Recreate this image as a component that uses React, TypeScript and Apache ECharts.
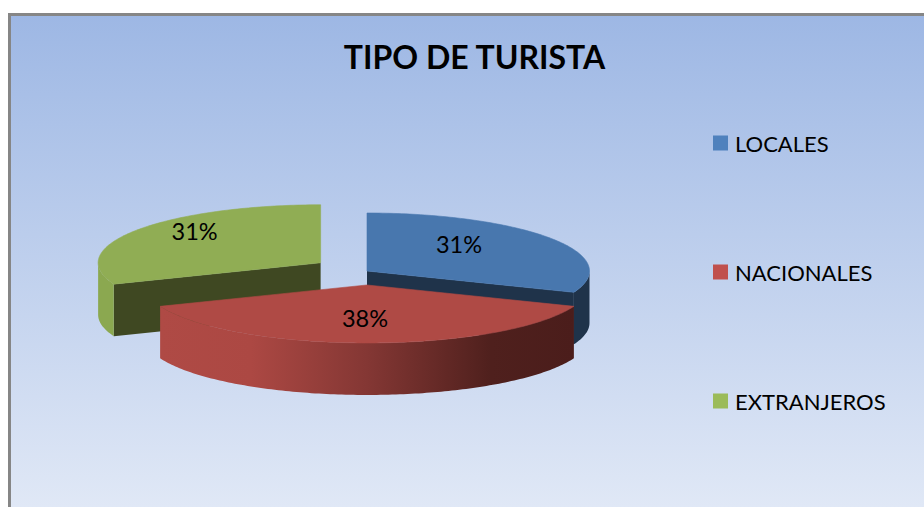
import React, { useEffect, useRef } from "react";
import * as echarts from "echarts";

const TITLE = "TIPO DE TURISTA";
const categories = ["LOCALES", "NACIONALES", "EXTRANJEROS"];
const shares = [31, 38, 31];
const explosions = [0, 0.241, 0.252];

const legendColors = ["#4F81BD", "#C0504D", "#9BBB59"];
const topColors = ["#4877AE", "#AF4A45", "#90AD54"];
const wallColors = ["#1F334A", "#AF4A45", "#8BA850"];
const cutColors = ["#1F334A", "#4D1E1C", "#3F4822"];
const sliceZ = [3, 4, 3];
const labelOffsets = [
  [92, -27],
  [-2, 33],
  [-126, -32],
];

const PIE = { cx: 367, cy: 271, rx: 222.5, ry: 58, depth: 52 };
const FONT = "Lato, Carlito, sans-serif";

const total = shares.reduce((a, b) => a + b, 0);
const rad = (d: number) => (d * Math.PI) / 180;

function sliceAngles(i: number) {
  const before = shares.slice(0, i).reduce((a, b) => a + b, 0);
  return {
    start: (before / total) * 360,
    end: ((before + shares[i]) / total) * 360,
  };
}

function arcPoints(cx: number, cy: number, from: number, to: number) {
  const pts: number[][] = [];
  const n = Math.max(2, Math.ceil(Math.abs(to - from)));
  for (let k = 0; k <= n; k++) {
    const a = rad(from + ((to - from) * k) / n);
    pts.push([cx + PIE.rx * Math.sin(a), cy - PIE.ry * Math.cos(a)]);
  }
  return pts;
}

function drawSlice(i: number) {
  const { start, end } = sliceAngles(i);
  const mid = rad((start + end) / 2);
  const cx = PIE.cx + explosions[i] * PIE.rx * Math.sin(mid);
  const cy = PIE.cy - explosions[i] * PIE.ry * Math.cos(mid);
  const children: any[] = [];
  const d = PIE.depth;

  const cut = (angle: number) => {
    const a = rad(angle);
    const ex = cx + PIE.rx * Math.sin(a);
    const ey = cy - PIE.ry * Math.cos(a);
    children.push({
      type: "polygon",
      silent: true,
      shape: { points: [[cx, cy], [ex, ey], [ex, ey + d], [cx, cy + d]] },
      style: { fill: cutColors[i] },
    });
  };
  if (start > 180) cut(start);
  if (end < 180) cut(end);

  const wStart = Math.max(start, 90);
  const wEnd = Math.min(end, 270);
  if (wEnd > wStart) {
    const upper = arcPoints(cx, cy, wStart, wEnd);
    const lower = upper.map(([x, y]) => [x, y + d]).reverse();
    const isRed = i === 1;
    children.push({
      type: "polygon",
      silent: true,
      shape: { points: [...upper, ...lower] },
      style: {
        fill: isRed
          ? new echarts.graphic.LinearGradient(0, 0, 1, 0, [
              { offset: 0, color: "#AF4A45" },
              { offset: 0.22, color: "#AC4843" },
              { offset: 0.5, color: "#843734" },
              { offset: 0.8, color: "#4F201D" },
              { offset: 1, color: "#4B1D1B" },
            ])
          : wallColors[i],
      },
    });
  }

  children.push({
    type: "polygon",
    silent: true,
    shape: { points: [[cx, cy], ...arcPoints(cx, cy, start, end)] },
    style: { fill: topColors[i], stroke: topColors[i], lineWidth: 0.6 },
  });

  children.push({
    type: "text",
    silent: true,
    style: {
      text: `${shares[i]}%`,
      x: cx + labelOffsets[i][0],
      y: cy + labelOffsets[i][1],
      fill: "#000000",
      font: `23.5px ${FONT}`,
      textAlign: "center",
      textVerticalAlign: "middle",
    },
  });
  return { type: "group", children };
}

export default function App() {
  const ref = useRef<HTMLDivElement>(null);
  useEffect(() => {
    const chart = echarts.init(ref.current!, undefined, { renderer: "svg" });
    chart.setOption({
      animation: false,
      title: {
        text: TITLE,
        left: 469.5,
        top: 35,
        textAlign: "center",
        textStyle: { fontFamily: FONT, fontWeight: "bold", fontSize: 32, color: "#000000" },
      },
      legend: {
        orient: "vertical",
        left: 708,
        top: 126,
        itemWidth: 15,
        itemHeight: 15,
        itemGap: 105,
        icon: "rect",
        data: categories,
        textStyle: { fontFamily: FONT, fontSize: 22, color: "#000000", lineHeight: 24, padding: [0, 0, 0, 2] },
      },
      graphic: [
        {
          type: "rect",
          z: 0,
          silent: true,
          shape: { x: 8, y: 13, width: 916, height: 494 },
          style: {
            fill: new echarts.graphic.LinearGradient(0, 0, 0, 1, [
              { offset: 0, color: "#9DB7E4" },
              { offset: 1, color: "#E0E8F6" },
            ]),
          },
        },
        { type: "rect", z: 1, silent: true, shape: { x: 8, y: 13, width: 916, height: 3 }, style: { fill: "#868686" } },
        { type: "rect", z: 1, silent: true, shape: { x: 8, y: 13, width: 3, height: 494 }, style: { fill: "#868686" } },
      ],
      series: categories.map((name, i) => ({
        type: "custom",
        name,
        coordinateSystem: "none",
        z: sliceZ[i],
        silent: true,
        itemStyle: { color: legendColors[i] },
        data: [[shares[i]]],
        renderItem: () => drawSlice(i),
      })),
    });
    return () => chart.dispose();
  }, []);
  return (
    <div
      ref={ref}
      style={{ position: "absolute", left: 0, top: 0, width: 924, height: 507, background: "#ffffff" }}
    />
  );
}
